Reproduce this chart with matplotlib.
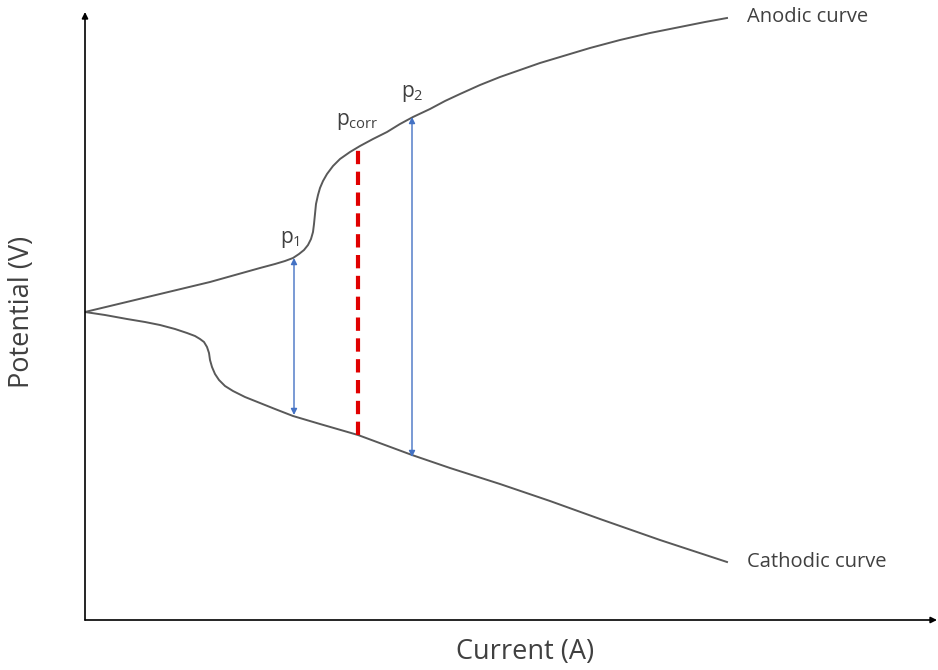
import matplotlib
matplotlib.use("Agg")
import matplotlib.pyplot as plt

# ===== Data (arbitrary units) =====
anodic_i = [0, 25, 50, 75, 100, 125, 150, 175, 190, 200, 208, 214, 219, 223, 226,
            228, 229, 230, 231, 233, 235, 238, 242, 248, 255, 265, 275, 288, 302,
            315, 328, 345, 360, 375, 395, 415, 435, 455, 475, 505, 535, 565, 595,
            620, 642]
anodic_e = [308, 314, 320, 326, 332, 338, 345, 352, 356, 359, 362, 366, 370, 375, 381,
            388, 396, 406, 416, 425, 432, 439, 446, 454, 461, 468, 474, 481, 488,
            496, 503, 511, 519, 526, 535, 543, 550, 557, 563, 572, 580, 587, 593,
            598, 602]

cathodic_i = [0, 20, 42, 60, 75, 90, 102, 110, 115, 119, 122, 124, 125, 127, 130,
              134, 140, 148, 160, 175, 190, 208, 235, 273, 300, 327, 365, 415, 465,
              515, 575, 642]
cathodic_e = [308, 305, 301, 298, 295, 291, 287, 284, 281, 278, 273, 267, 260, 253, 246,
              240, 234, 229, 223, 217, 211, 204, 196, 185, 175, 165, 152, 136, 119,
              101, 80, 58]

# p1 / p2 spans and corrosion line: (current, lower potential, upper potential)
p1 = (209, 205, 362)
p2 = (327, 163, 503)
pcorr = (273, 185, 473)

TEXT = "#404040"
CURVE = "#595959"
BLUE = "#4472C4"
RED = "#E00000"

plt.rcParams['font.family'] = ['Open Sans', 'DejaVu Sans']
plt.rcParams['mathtext.fontset'] = 'custom'
plt.rcParams['mathtext.rm'] = 'Open Sans'
plt.rcParams['mathtext.it'] = 'Open Sans:italic'

fig = plt.figure(figsize=(9.38, 6.70), dpi=100)
ax = fig.add_axes([85 / 938, 50 / 670, 852 / 938, 608 / 670])
ax.set_xlim(0, 852)
ax.set_ylim(0, 608)
ax.axis("off")

# axes with arrow heads
ax.annotate("", xy=(852, 0), xytext=(0, 0),
            arrowprops=dict(arrowstyle="-|>", color="black", lw=1.2, mutation_scale=9,
                            shrinkA=0, shrinkB=0), annotation_clip=False)
ax.annotate("", xy=(0, 608), xytext=(0, 0),
            arrowprops=dict(arrowstyle="-|>", color="black", lw=1.2, mutation_scale=9,
                            shrinkA=0, shrinkB=0), annotation_clip=False)

# curves
ax.plot(anodic_i, anodic_e, color=CURVE, lw=1.4, solid_joinstyle="round")
ax.plot(cathodic_i, cathodic_e, color=CURVE, lw=1.4, solid_joinstyle="round")

# double arrows
for x, lo, hi in (p1, p2):
    ax.annotate("", xy=(x, lo), xytext=(x, hi),
                arrowprops=dict(arrowstyle="<|-|>", color=BLUE, lw=1.0,
                                mutation_scale=9, shrinkA=0, shrinkB=0))

# corrosion line
ax.plot([pcorr[0], pcorr[0]], [pcorr[1], pcorr[2]], color=RED, lw=3,
        linestyle=(0, (3.2, 1.8)))

# labels
ax.text(205, 381, r"$\mathrm{p}_1$", fontsize=15, color=TEXT, ha="center", va="center")
ax.text(272, 498, r"$\mathrm{p}_{\mathrm{corr}}$", fontsize=15, color=TEXT,
        ha="center", va="center")
ax.text(327, 527, r"$\mathrm{p}_2$", fontsize=15, color=TEXT, ha="center", va="center")
ax.text(662, 603, "Anodic curve", fontsize=14.5, color=TEXT, ha="left", va="center")
ax.text(662, 58, "Cathodic curve", fontsize=14.5, color=TEXT, ha="left", va="center")

fig.text(525 / 938, 1 - 652 / 670, "Current (A)", fontsize=19.5, color=TEXT,
         ha="center", va="center")
fig.text(22 / 938, 1 - 312 / 670, "Potential (V)", fontsize=19.5, color=TEXT,
         ha="center", va="center", rotation=90)

fig.savefig("out.png", dpi=100)
